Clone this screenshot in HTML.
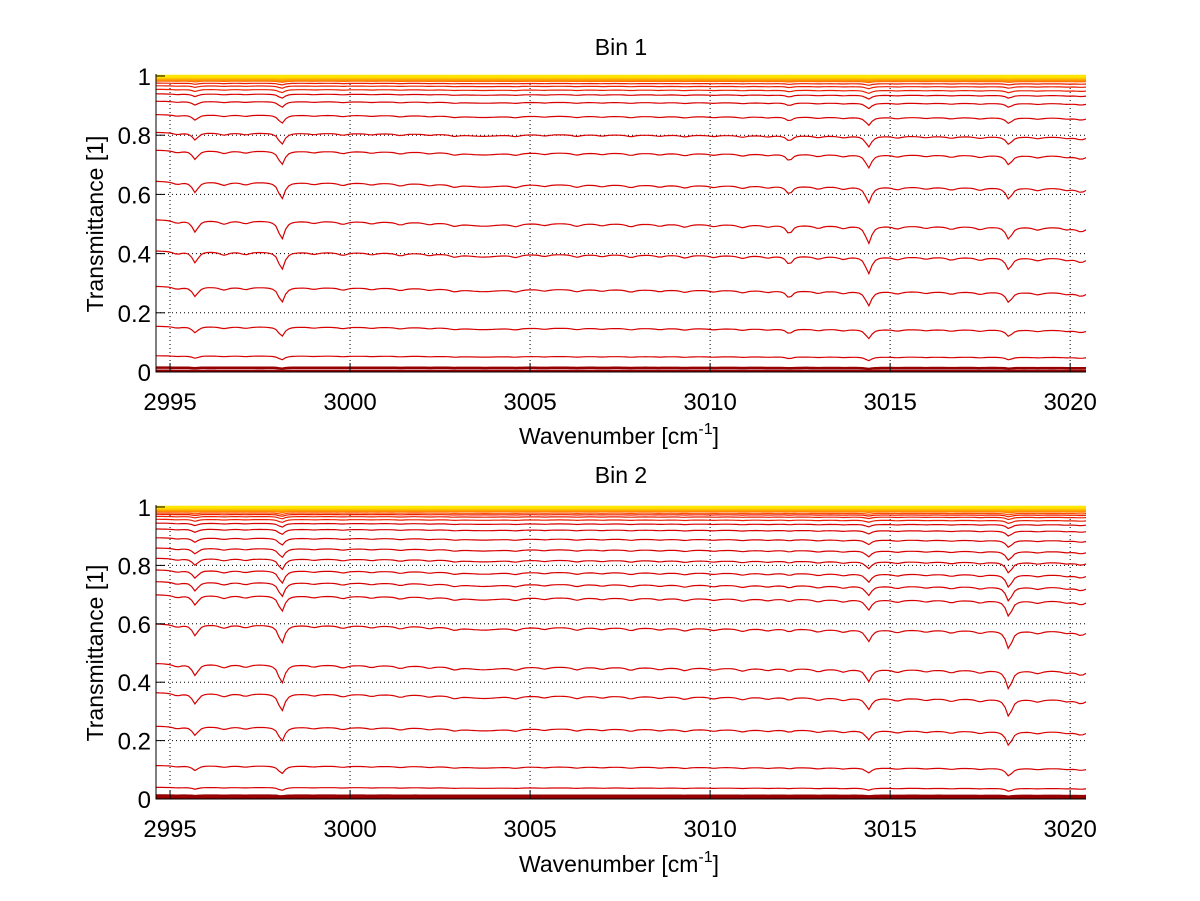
<!DOCTYPE html>
<html><head><meta charset="utf-8"><style>
html,body{margin:0;padding:0;background:#fff;}
svg{display:block;font-family:"Liberation Sans",sans-serif;}
</style></head><body>
<svg id="fig" width="1200" height="901" xmlns="http://www.w3.org/2000/svg"></svg>
<script>
// ---- data ----
const xTicks = [2995, 3000, 3005, 3010, 3015, 3020];
const yTicks = [0, 0.2, 0.4, 0.6, 0.8, 1];
const xMin = 2994.61, xMax = 3020.44;
// absorption lines: centers and relative strengths per bin
const lineCenters = [2995.7, 2998.1, 3003.7, 3012.2, 3014.4, 3018.3];
const lineStrengthBin1 = [0.16, 0.25, 0.05, 0.12, 0.24, 0.17];
const lineStrengthBin2 = [0.16, 0.26, 0.05, 0.04, 0.17, 0.26];
const lineWidths = [0.1, 0.1, 0.6, 0.1, 0.1, 0.1];
// weak wiggle lines
const weakCenters = [2995.2, 2996.5, 2997.1, 2999.0, 2999.8, 3000.6, 3001.4, 3002.2, 3002.9, 3004.6, 3005.4, 3006.3, 3007.0, 3007.8, 3008.6, 3009.3, 3010.1, 3010.9, 3011.6, 3013.0, 3013.7, 3015.2, 3016.0, 3016.7, 3017.5, 3019.1, 3019.9, 3020.3];
const weakStrength = [0.04, 0.05, 0.04, 0.03, 0.04, 0.03, 0.04, 0.03, 0.04, 0.04, 0.03, 0.04, 0.03, 0.04, 0.03, 0.04, 0.03, 0.04, 0.03, 0.04, 0.04, 0.04, 0.03, 0.04, 0.04, 0.04, 0.03, 0.06];
// baseline transmittance levels at left edge
const levelsBin1 = [0.004, 0.015, 0.055, 0.155, 0.29, 0.41, 0.515, 0.645, 0.75, 0.81, 0.87, 0.915, 0.94, 0.955, 0.967, 0.976, 0.983, 0.987, 0.99, 0.992, 0.994, 0.996, 0.997, 0.998, 0.999, 1.0];
const levelsBin2 = [0.004, 0.012, 0.04, 0.115, 0.25, 0.365, 0.465, 0.6, 0.7, 0.745, 0.785, 0.825, 0.86, 0.895, 0.925, 0.945, 0.958, 0.968, 0.975, 0.98, 0.985, 0.988, 0.991, 0.994, 0.996, 0.998, 0.999, 1.0];
const slope = 0.004;

const panels = [
  {title:"Bin 1", top:76, bottom:372, levels:levelsBin1, strengths:lineStrengthBin1, titleY:55, xlabY:444},
  {title:"Bin 2", top:507, bottom:799, levels:levelsBin2, strengths:lineStrengthBin2, titleY:483, xlabY:872}
];
const L = 156, R = 1086;
const NS = "http://www.w3.org/2000/svg";
const svg = document.getElementById('fig');
function mk(tag, attrs, parent){const e=document.createElementNS(NS,tag);for(const k in attrs)e.setAttribute(k,attrs[k]);(parent||svg).appendChild(e);return e;}
const xs = v => L + (v - xMin) / (xMax - xMin) * (R - L);

function absorb(x, strengths){
  let a = 0;
  for(let i=0;i<lineCenters.length;i++){const d=(x-lineCenters[i])/lineWidths[i];a+=strengths[i]/(1+d*d);}
  for(let i=0;i<weakCenters.length;i++){const d=(x-weakCenters[i])/0.15;a+=weakStrength[i]/(1+d*d);}
  return a;
}
function color(lv){
  if(lv<0.02) return 'rgb(150,0,0)';
  if(lv<0.95) return 'rgb(215,0,0)';
  if(lv<0.98) return 'rgb(235,30,0)';
  const u=(lv-0.98)/0.02;
  return `rgb(255,${Math.round(80+u*150)},0)`;
}

panels.forEach((p,pi)=>{
  const g = mk('g',{});
  
  
  const ys = v => p.bottom - v*(p.bottom-p.top);
  xTicks.forEach(t=>{const l=mk('line',{x1:xs(t),x2:xs(t),y1:p.top,y2:p.bottom,stroke:'#000','stroke-width':1,'stroke-dasharray':'1,3'},g);
    });
  yTicks.forEach(t=>{if(t===0||t===1)return;const l=mk('line',{x1:L,x2:R,y1:ys(t),y2:ys(t),stroke:'#000','stroke-width':1,'stroke-dasharray':'1,3'},g);
    });
  p.levels.forEach((lv,i)=>{
    const k = lv*(1-lv);
    let d='';
    for(let x=xMin;x<=xMax+1e-9;x+=0.09){
      const T = lv - k*(absorb(x,p.strengths) + slope*(x-xMin));
      d += (d?'L':'M')+xs(x).toFixed(1)+','+ys(Math.min(T,1)).toFixed(1);
    }
    const path = mk('path',{d:d,fill:'none',stroke:color(lv),'stroke-width':(lv>0.985||lv<0.02)?2.5:1.2},g);
    
    
  });
  const ax=mk('path',{d:`M${L},${p.top-2}L${L},${p.bottom}L${R},${p.bottom}`,fill:'none',stroke:'#000','stroke-width':1},g);
  
  xTicks.forEach(t=>{mk('line',{x1:xs(t),x2:xs(t),y1:p.bottom,y2:p.bottom-9,stroke:'#000'},g);
    const tx=mk('text',{x:xs(t),y:p.bottom+38,'font-size':24,'text-anchor':'middle'},g);tx.textContent=t;
    });
  yTicks.forEach(t=>{mk('line',{x1:L,x2:L+9,y1:ys(t),y2:ys(t),stroke:'#000'},g);
    const tx=mk('text',{x:L-5,y:ys(t)+9,'font-size':24,'text-anchor':'end'},g);tx.textContent=t;
    });
  const ti=mk('text',{x:621,y:p.titleY,'font-size':23,'text-anchor':'middle'},g);ti.textContent=p.title;
  
  const xl=mk('text',{x:619,y:p.xlabY,'font-size':23,'text-anchor':'middle'},g);
  xl.innerHTML='Wavenumber [cm<tspan dy="-10" font-size="16">-1</tspan><tspan dy="10">]</tspan>';
  
  const cy=(p.top+p.bottom)/2;
  const yl=mk('text',{x:103,y:cy,'font-size':23,'text-anchor':'middle',transform:`rotate(-90 103 ${cy})`},g);yl.textContent='Transmittance [1]';
  
});
</script>
</body></html>
